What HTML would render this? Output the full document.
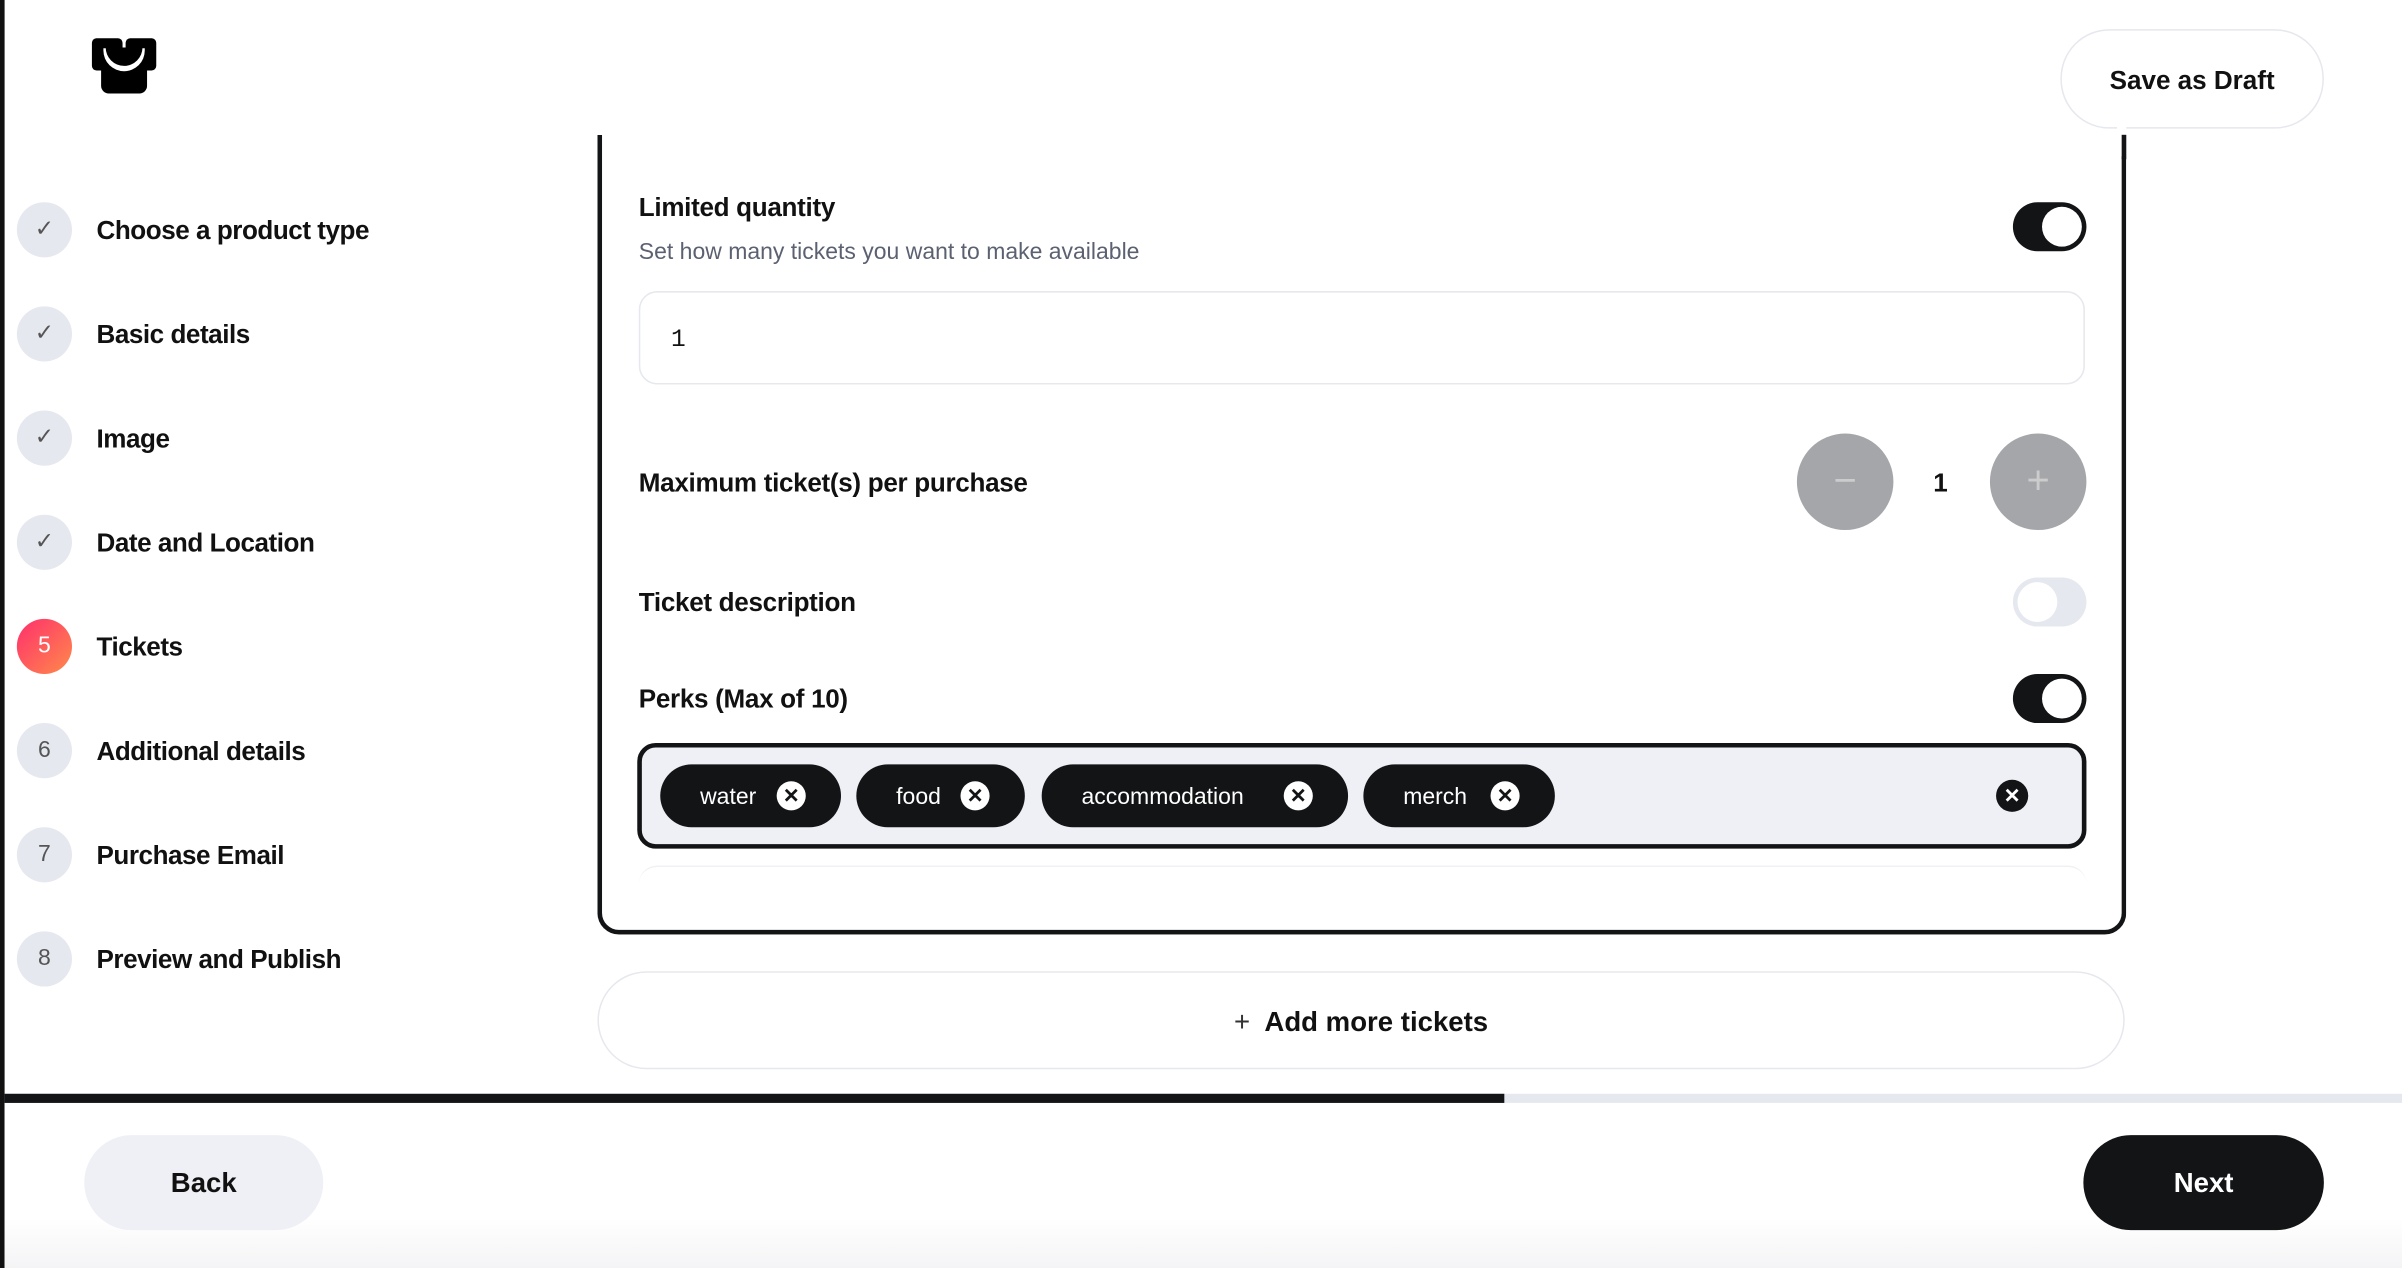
<!DOCTYPE html>
<html><head><meta charset="utf-8"><style>
html,body{margin:0;padding:0;width:2402px;height:1268px;overflow:hidden;background:#fff}
#w{position:absolute;left:0;top:0;width:1568px;height:828px;transform:scale(1.53189);transform-origin:0 0;font-family:"Liberation Sans",sans-serif;color:#111}
.a{position:absolute}
.step{position:absolute;left:11px;width:36px;height:36px;border-radius:50%;background:#e6e8ef;text-align:center;line-height:36px;font-size:15px;color:#555}
.sl{position:absolute;left:63px;font-size:17px;font-weight:bold;letter-spacing:-0.3px;color:#111}
.tog{position:absolute;width:48px;height:32px;border-radius:16px}
.tog i{position:absolute;top:3px;width:26px;height:26px;border-radius:50%;background:#fff}
.chip{position:absolute;top:499px;height:41px;border-radius:21px;background:#131416;color:#fff;font-size:15px;line-height:43px;padding-left:26px;box-sizing:border-box}
.x{position:absolute;top:11px;width:19px;height:19px;border-radius:50%;background:#fff;color:#131416;font-size:13px;line-height:19px;text-align:center;font-weight:bold}
.lbl{position:absolute;left:417px;font-size:17px;font-weight:bold;letter-spacing:-0.2px}
</style></head><body><div id="w">
<div class="a" style="left:0;top:0;width:3px;height:828px;background:#111"></div>
<!-- logo -->
<div class="a" style="left:60px;top:25px;width:20px;height:21px;background:#000;border-radius:3px"></div>
<div class="a" style="left:82px;top:25px;width:20px;height:21px;background:#000;border-radius:3px"></div>
<div class="a" style="left:66px;top:40px;width:30px;height:21px;background:#000;border-radius:3px 3px 5px 5px"></div>
<div class="a" style="left:69px;top:31px;width:24px;height:12px;background:#000;border-radius:0 0 12px 12px;box-shadow:0 2px 0 1.5px #fff"></div>
<div class="a" style="left:1345px;top:19px;width:170px;height:63px;border:1px solid #e6e8ee;border-radius:32px;text-align:center;line-height:65px;font-size:17px;font-weight:bold">Save as Draft</div>
<!-- steps -->
<div class="step" style="top:132px">✓</div><div class="sl" style="top:141px">Choose a product type</div>
<div class="step" style="top:200px">✓</div><div class="sl" style="top:209px">Basic details</div>
<div class="step" style="top:268px">✓</div><div class="sl" style="top:277px">Image</div>
<div class="step" style="top:336px">✓</div><div class="sl" style="top:345px">Date and Location</div>
<div class="step" style="top:404px;background:linear-gradient(135deg,#ff2f6d,#ff8a4a);color:#fff">5</div><div class="sl" style="top:413px">Tickets</div>
<div class="step" style="top:472px">6</div><div class="sl" style="top:481px">Additional details</div>
<div class="step" style="top:540px">7</div><div class="sl" style="top:549px">Purchase Email</div>
<div class="step" style="top:608px">8</div><div class="sl" style="top:617px">Preview and Publish</div>
<!-- card -->
<div class="a" style="left:390px;top:88px;width:992px;height:519px;border:3px solid #131416;border-top:none;border-radius:0 0 14px 14px"></div>
<div class="a" style="left:1382px;top:82px;width:6px;height:20px;background:#fff"></div>
<div class="a" style="left:1385px;top:88px;width:3px;height:16px;background:#131416"></div>
<div class="lbl" style="top:126px">Limited quantity</div>
<div class="a" style="left:417px;top:156px;font-size:15px;color:#5b6170">Set how many tickets you want to make available</div>
<div class="tog" style="left:1314px;top:132px;background:#131416"><i style="left:19px"></i></div>
<div class="a" style="left:417px;top:190px;width:944px;height:61px;border:1px solid #e6e8ee;border-radius:12px;box-sizing:border-box;font-family:'Liberation Mono',monospace;font-size:16px;line-height:63px;padding-left:20px">1</div>
<div class="lbl" style="top:306px">Maximum ticket(s) per purchase</div>
<div class="a" style="left:1173px;top:283px;width:63px;height:63px;border-radius:50%;background:#a4a6a9;color:#ccc;text-align:center;line-height:60px;font-size:26px">−</div>
<div class="a" style="left:1262px;top:306px;font-size:17px;font-weight:bold">1</div>
<div class="a" style="left:1299px;top:283px;width:63px;height:63px;border-radius:50%;background:#a4a6a9;color:#ccc;text-align:center;line-height:60px;font-size:26px">+</div>
<div class="lbl" style="top:384px">Ticket description</div>
<div class="tog" style="left:1314px;top:377px;background:#e6e8ef"><i style="left:3px"></i></div>
<div class="lbl" style="top:447px">Perks (Max of 10)</div>
<div class="tog" style="left:1314px;top:440px;background:#131416"><i style="left:19px"></i></div>
<div class="a" style="left:416px;top:485px;width:946px;height:69px;border:3px solid #131416;border-radius:12px;background:#eff0f5;box-sizing:border-box"></div>
<div class="chip" style="left:431px;width:118px">water<span class="x" style="left:76px">✕</span></div>
<div class="chip" style="left:559px;width:110px">food<span class="x" style="left:68px">✕</span></div>
<div class="chip" style="left:680px;width:200px">accommodation<span class="x" style="left:158px">✕</span></div>
<div class="chip" style="left:890px;width:125px">merch<span class="x" style="left:83px">✕</span></div>
<div class="a" style="left:1303px;top:509px;width:21px;height:21px;border-radius:50%;background:#131416;color:#fff;font-size:13px;line-height:21px;text-align:center;font-weight:bold">✕</div>
<div class="a" style="left:417px;top:565px;width:945px;height:20px;border-top:1px solid #f0f1f4;border-radius:12px 12px 0 0"></div>
<div class="a" style="left:390px;top:634px;width:997px;height:64px;border:1px solid #e6e8ee;border-radius:32px;box-sizing:border-box;text-align:center;line-height:64px;font-size:18px;font-weight:bold"><span style="font-weight:normal;color:#333">+&nbsp;</span> Add more tickets</div>
<!-- progress -->
<div class="a" style="left:3px;top:714px;width:1565px;height:6px;background:#e6e8ef"></div>
<div class="a" style="left:3px;top:714px;width:979px;height:6px;background:#131416"></div>
<div class="a" style="left:3px;top:720px;width:1565px;height:108px;background:linear-gradient(#fff 70%,#f4f4f6)"></div>
<div class="a" style="left:55px;top:741px;width:156px;height:62px;border-radius:31px;background:#eff0f5;text-align:center;line-height:63px;font-size:18px;font-weight:bold">Back</div>
<div class="a" style="left:1360px;top:741px;width:157px;height:62px;border-radius:31px;background:#131416;color:#fff;text-align:center;line-height:63px;font-size:18px;font-weight:bold">Next</div>
</div></body></html>
